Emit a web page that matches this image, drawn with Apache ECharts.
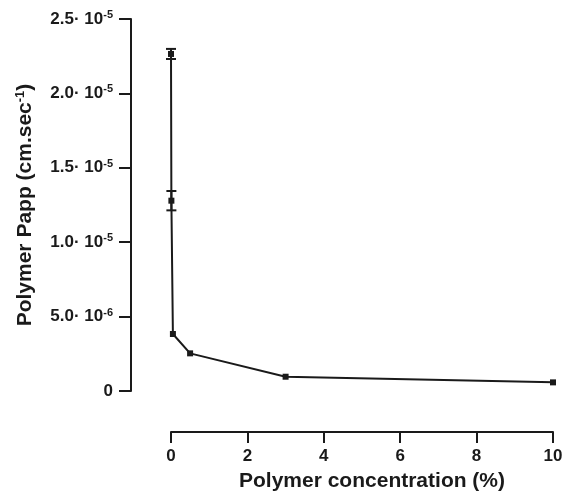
<!DOCTYPE html>
<html>
<head>
<meta charset="utf-8">
<script src="https://cdn.jsdelivr.net/npm/echarts@6/dist/echarts.min.js"></script>
<style>
    html, body { margin: 0; padding: 0; background: #fff; }
    #chart { width: 565px; height: 491px; }
</style>
</head>
<body>
<div id="chart"></div>
<script>
// polymer concentration (%)
var concentration = [0, 0.01, 0.05, 0.5, 3, 10];
// Papp values (cm/sec)
var papp = [2.265e-5, 1.279e-5, 3.83e-6, 2.53e-6, 0.96e-6, 0.58e-6];
// error (+/-), only first two points show bars
var pappErr = [0.34e-6, 0.65e-6, 0, 0, 0, 0];
// y tick labels: mantissa and exponent
var yTickBase = ['0', '5.0· 10', '1.0· 10', '1.5· 10', '2.0· 10', '2.5· 10'];
var yTickExp = ['', '-6', '-5', '-5', '-5', '-5'];

var lineColor = '#1a1a1a';
var fontFamily = '"Liberation Sans", Arial, sans-serif';

var chartDom = document.getElementById('chart');
var myChart = echarts.init(chartDom);

var errData = [];
for (var i = 0; i < concentration.length; i++) {
    if (pappErr[i] > 0) {
        errData.push([concentration[i], papp[i] - pappErr[i], papp[i] + pappErr[i]]);
    }
}

var option = {
    animation: false,
    backgroundColor: '#fff',
    grid: {
        left: 171,
        right: 12,
        top: 19,
        bottom: 100,
        outerBoundsMode: 'none'
    },
    xAxis: {
        type: 'value',
        min: 0,
        max: 10,
        interval: 2,
        offset: 41,
        splitLine: { show: false },
        axisLine: { onZero: false, lineStyle: { color: lineColor, width: 2 } },
        axisTick: { length: 11, lineStyle: { color: lineColor, width: 2 } },
        axisLabel: {
            color: lineColor,
            fontSize: 17,
            fontWeight: 'bold',
            fontFamily: fontFamily,
            margin: 16
        },
        name: 'Polymer concentration (%)',
        nameLocation: 'middle',
        nameGap: 39,
        nameTextStyle: {
            color: lineColor,
            fontSize: 21,
            fontWeight: 'bold',
            fontFamily: fontFamily,
            padding: [0, 0, 0, 20]
        }
    },
    yAxis: {
        type: 'value',
        min: 0,
        max: 2.5e-5,
        interval: 5e-6,
        offset: 40,
        splitLine: { show: false },
        axisLine: { show: true, onZero: false, lineStyle: { color: lineColor, width: 2 } },
        axisTick: { show: true, length: 12, lineStyle: { color: lineColor, width: 2 } },
        axisLabel: {
            margin: 18,
            formatter: function (v, idx) {
                if (!yTickExp[idx]) return '{b|' + yTickBase[idx] + '}';
                return '{b|' + yTickBase[idx] + '}{s|' + yTickExp[idx] + '}';
            },
            rich: {
                b: {
                    color: lineColor,
                    fontSize: 17,
                    fontWeight: 'bold',
                    fontFamily: fontFamily
                },
                s: {
                    color: lineColor,
                    fontSize: 11,
                    fontWeight: 'bold',
                    fontFamily: fontFamily,
                    verticalAlign: 'top',
                    padding: [0, 0, 8, 0]
                }
            }
        },
        name: '{t|Polymer Papp (cm.sec}{s|-1}{t|)}',
        nameLocation: 'middle',
        nameGap: 94,
        nameRotate: 90,
        nameTextStyle: {
            rich: {
                t: {
                    color: lineColor,
                    fontSize: 21,
                    fontWeight: 'bold',
                    fontFamily: fontFamily
                },
                s: {
                    color: lineColor,
                    fontSize: 13,
                    fontWeight: 'bold',
                    fontFamily: fontFamily,
                    verticalAlign: 'top',
                    padding: [0, 0, 10, 0]
                }
            }
        }
    },
    series: [
        {
            type: 'line',
            data: concentration.map(function (c, i) { return [c, papp[i]]; }),
            symbol: 'rect',
            symbolSize: 6,
            lineStyle: { color: lineColor, width: 2 },
            itemStyle: { color: lineColor },
            z: 3
        },
        {
            type: 'custom',
            data: errData,
            renderItem: function (params, api) {
                var x = api.value(0);
                var lo = api.coord([x, api.value(1)]);
                var hi = api.coord([x, api.value(2)]);
                var half = 5;
                var st = { stroke: lineColor, lineWidth: 2 };
                return {
                    type: 'group',
                    children: [
                        { type: 'line', shape: { x1: lo[0], y1: lo[1], x2: hi[0], y2: hi[1] }, style: st },
                        { type: 'line', shape: { x1: lo[0] - half, y1: lo[1], x2: lo[0] + half, y2: lo[1] }, style: st },
                        { type: 'line', shape: { x1: hi[0] - half, y1: hi[1], x2: hi[0] + half, y2: hi[1] }, style: st }
                    ]
                };
            },
            z: 4
        }
    ]
};

option && myChart.setOption(option);
</script>
</body>
</html>
